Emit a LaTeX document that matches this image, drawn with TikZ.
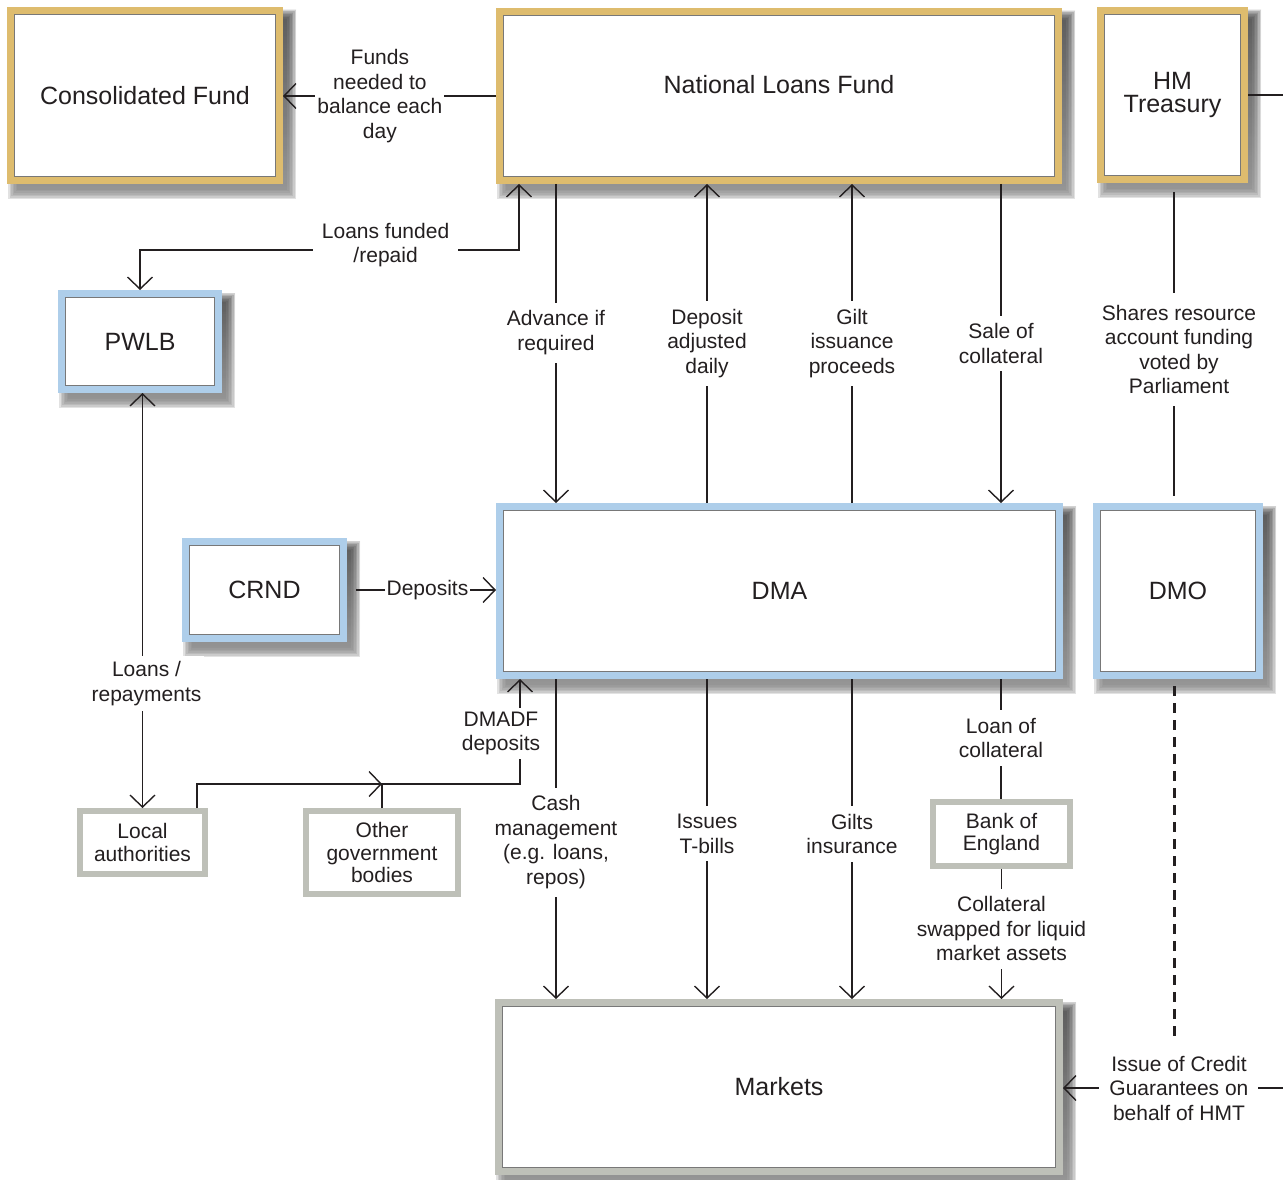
\documentclass[tikz,border=0pt]{standalone}
\usepackage{fontspec}
\setmainfont{Liberation Sans}
\usetikzlibrary{arrows.meta,calc,backgrounds}
\definecolor{gold}{RGB}{222,188,110}
\definecolor{lblue}{RGB}{174,206,234}
\definecolor{lgray}{RGB}{190,192,184}
\definecolor{ink}{RGB}{35,31,32}
\definecolor{rim}{RGB}{120,120,120}
\definecolor{shade}{RGB}{40,40,45}
\newcommand\boxshadow[1]{%
  \begin{scope}[on background layer]
  \foreach \r in {-3,-1.5,0,1.5,3,4.5,6}{%
    \fill[shade,opacity=0.13] ($(#1.south west)+(7-\r,9+\r)$) rectangle ($(#1.north east)+(7+\r,9-\r)$);}
  \end{scope}}
\tikzset{
 bigbox/.style={draw=#1, line width=7pt, fill=white, inner sep=0pt, outer sep=3.5pt, text=ink, align=center,
   font={\fontsize{25}{23}\selectfont},
   path picture={\draw[rim,line width=1.2pt] ([shift={(4.1pt,4.1pt)}]path picture bounding box.south west) rectangle ([shift={(-4.1pt,-4.1pt)}]path picture bounding box.north east);}},
 smallbox/.style={draw=lgray, line width=6pt, fill=white, inner sep=0pt, outer sep=3pt, text=ink, align=center,
   font={\fontsize{21}{22.5}\selectfont}},
 lbl/.style={fill=white, text=ink, align=center, inner xsep=3pt, inner ysep=8pt, font={\fontsize{21}{24.5}\selectfont}},
 conn/.style={draw=ink, line width=1.4pt},
 dashconn/.style={draw=ink, line width=3pt, dash pattern=on 10pt off 7pt},
 >={Straight Barb[length=12pt,width=25pt]}
}
\begin{document}
\begin{tikzpicture}[x=1pt,y=-1pt]
\useasboundingbox (0,0) rectangle (1283,1180);
% boxes
\node[bigbox=gold, minimum width=269pt, minimum height=170pt] (cf) at (145,95.5) {Consolidated Fund};
\node[bigbox=gold, minimum width=559pt, minimum height=169pt] (nlf) at (779,96) {\raisebox{2.5pt}[0pt][0pt]{National Loans Fund}};
\node[bigbox=gold, minimum width=144pt, minimum height=169pt] (hmt) at (1172.5,95) {HM\\Treasury};
\node[bigbox=lblue, minimum width=157pt, minimum height=96pt] (pwlb) at (140,341.5) {PWLB};
\node[bigbox=lblue, minimum width=158pt, minimum height=97pt] (crnd) at (264.5,590) {CRND};
\node[bigbox=lblue, minimum width=560pt, minimum height=169pt] (dma) at (779.5,591) {DMA};
\node[bigbox=lblue, minimum width=163pt, minimum height=169pt] (dmo) at (1178,591) {DMO};
\node[bigbox=lgray, minimum width=561pt, minimum height=169pt] (mk) at (779,1087) {Markets};
\node[smallbox, minimum width=125pt, minimum height=63pt] (la) at (142.5,842.5) {Local\\authorities};
\node[smallbox, minimum width=152pt, minimum height=83pt] (ogb) at (382,852.5) {Other\\government\\bodies};
\node[smallbox, minimum width=137pt, minimum height=64pt] (boe) at (1001.5,834) {Bank of\\England};
\boxshadow{cf}\boxshadow{nlf}\boxshadow{hmt}\boxshadow{pwlb}\boxshadow{crnd}\boxshadow{dma}\boxshadow{dmo}\boxshadow{mk}
% columns and helper coordinates
\coordinate (ca) at (556,0);
\coordinate (cb) at (707,0);
\coordinate (cc) at (852,0);
\coordinate (cd) at (1001,0);
\coordinate (ce) at (1174,0);
\coordinate (lf) at (519,250);
\coordinate (j0) at (197,784);
\coordinate (j2) at (520,784);
\coordinate (offA) at (1283,95);
\coordinate (offB) at (1283,1088);
% connectors
\draw[conn,->] (nlf.west) -- node[lbl,pos=0.545,inner xsep=2pt]{Funds\\needed to\\balance each\\day} (nlf.west -| cf.east);
\draw[conn,<->] (pwlb.north) |- node[lbl,pos=0.824,inner xsep=9pt,yshift=5pt]{Loans funded\\/repaid} (lf) -- (lf |- nlf.south);
\draw[conn,->] (ca |- nlf.south) -- node[lbl,pos=0.466]{Advance if\\required} (ca |- dma.north);
\draw[conn,->] (cb |- dma.north) -- node[lbl,pos=0.5]{Deposit\\adjusted\\daily} (cb |- nlf.south);
\draw[conn,->] (cc |- dma.north) -- node[lbl,pos=0.5]{Gilt\\issuance\\proceeds} (cc |- nlf.south);
\draw[conn,->] (cd |- nlf.south) -- node[lbl,pos=0.5]{Sale of\\collateral} (cd |- dma.north);
\draw[conn,shorten <=9pt,shorten >=7pt] (ce |- hmt.south) -- node[lbl,pos=0.52,xshift=5pt,inner ysep=12pt]{Shares resource\\account funding\\voted by\\Parliament} (ce |- dmo.north);
\draw[conn] (hmt.east) -- (offA);
\draw[conn,->,shorten <=9pt] (crnd.east) -- node[lbl,pos=0.54,inner xsep=2pt]{Deposits} (crnd.east -| dma.west);
\draw[conn,<->] (la.north) -- node[lbl,pos=0.30,xshift=4pt,inner ysep=5pt]{Loans /\\repayments} (la.north |- pwlb.south);
\draw[conn,->] (j0 |- la.north) -- (j0) -- (j0 -| ogb.north);
\draw[conn,->] (ogb.north) |- (j2) -- node[lbl,pos=0.48,xshift=-19pt,inner ysep=4pt]{DMADF\\deposits} (j2 |- dma.south);
\draw[conn,->] (ca |- dma.south) -- node[lbl,pos=0.51]{Cash\\management\\(e.g. loans,\\repos)} (ca |- mk.north);
\draw[conn,->] (cb |- dma.south) -- node[lbl,pos=0.484]{Issues\\T-bills} (cb |- mk.north);
\draw[conn,->] (cc |- dma.south) -- node[lbl,pos=0.484]{Gilts\\insurance} (cc |- mk.north);
\draw[conn] (cd |- dma.south) -- node[lbl,pos=0.49]{Loan of\\collateral} (cd |- boe.north);
\draw[conn,->] (boe.south) -- node[lbl,pos=0.46]{Collateral\\swapped for liquid\\market assets} (boe.south |- mk.north);
\draw[conn,->] (offB) -- node[lbl,pos=0.473,inner xsep=10pt] (icg) {Issue of Credit\\Guarantees on\\behalf of HMT} (offB -| mk.east);
\draw[dashconn,shorten <=7pt,shorten >=5pt] (ce |- dmo.south) -- (ce |- icg.north);
\end{tikzpicture}
\end{document}
